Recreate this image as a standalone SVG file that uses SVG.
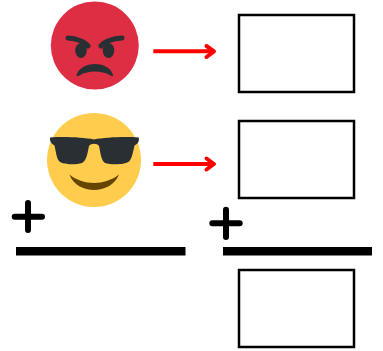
<svg xmlns="http://www.w3.org/2000/svg" width="383" height="351" viewBox="0 0 383 351">
<style>
.box{fill:#fff;stroke:#000;stroke-width:2.5}
.arrow{fill:none;stroke:#f00;stroke-width:4}
.head{fill:none;stroke:#f00;stroke-width:4;stroke-linecap:round;stroke-linejoin:round}
.plus{fill:none;stroke:#000;stroke-width:6;stroke-linecap:round}
.bar{fill:#000}
.dark{fill:#292f33}
</style>
<rect width="383" height="351" fill="#fff"/>
<g id="angry-face">
<circle cx="94.800" cy="45.500" r="44" fill="#dd2e44"/>
<ellipse cx="81" cy="50.500" rx="5.800" ry="7.500" class="dark"/>
<ellipse cx="108.500" cy="50.500" rx="5.800" ry="7.500" class="dark"/>
<path d="M68 38C76 38.500 85 41.500 88 46" fill="none" stroke="#292f33" stroke-width="5" stroke-linecap="round"/>
<path d="M122 38C113 38.500 104 41.500 101 46" fill="none" stroke="#292f33" stroke-width="5" stroke-linecap="round"/>
<path d="M76.500 75C79 68 86 64 95 64C104 64 111 68 113 75C113.500 76.500 112 76.500 110.500 75.500C106 72.500 100 71.500 95 71.500C90 71.500 84 72.500 79.500 75.500C78 76.500 76 76.500 76.500 75Z" class="dark"/>
</g>
<g id="cool-face">
<circle cx="94" cy="160" r="47" fill="#ffcc4d"/>
<path d="M50 137.500C65 136.500 83 137.500 94 139.500C105 137.500 123 136.500 138.700 137.500C139.500 141 138 144 134.500 145.500C133 152 132 158 129.500 161C126 165 111 165 105 163C101 161 100 150 99 146C97 143 91 143 89 146C88 150 87 161 82 163C76 165 62 165 59 161C56.500 158 56 152 54.500 145.500C51 144 49.500 141 50 137.500Z" class="dark"/>
<path d="M69.500 174.500C76 180 85 183 94 183C103 183 112 180 119 174.500C115 185 104 190 94 190C84 190 73 185 69.500 174.500Z" fill="#664500"/>
</g>
<g id="connectors">
<path class="arrow" d="M153.300 51.300H214"/>
<path class="head" d="M206.500 46L214 51.300L206.500 57"/>
<path class="arrow" d="M153.300 164H214"/>
<path class="head" d="M206.500 158.500L214 164L206.500 169.500"/>
</g>
<g id="box-1"><rect class="box" x="239" y="15" width="115" height="77"/></g>
<g id="box-2"><rect class="box" x="239" y="121" width="115" height="77"/></g>
<g id="box-3"><rect class="box" x="239" y="270" width="115" height="77"/></g>
<g id="plus-left"><path class="plus" d="M28 203V230M14.700 216.700H42"/></g>
<g id="plus-right"><path class="plus" d="M226 209.700V237M212.300 223.300H239.700"/></g>
<g id="bar-left"><rect class="bar" x="16" y="247" width="169.500" height="8.500"/></g>
<g id="bar-right"><rect class="bar" x="223" y="247" width="149" height="8.500"/></g>
</svg>
